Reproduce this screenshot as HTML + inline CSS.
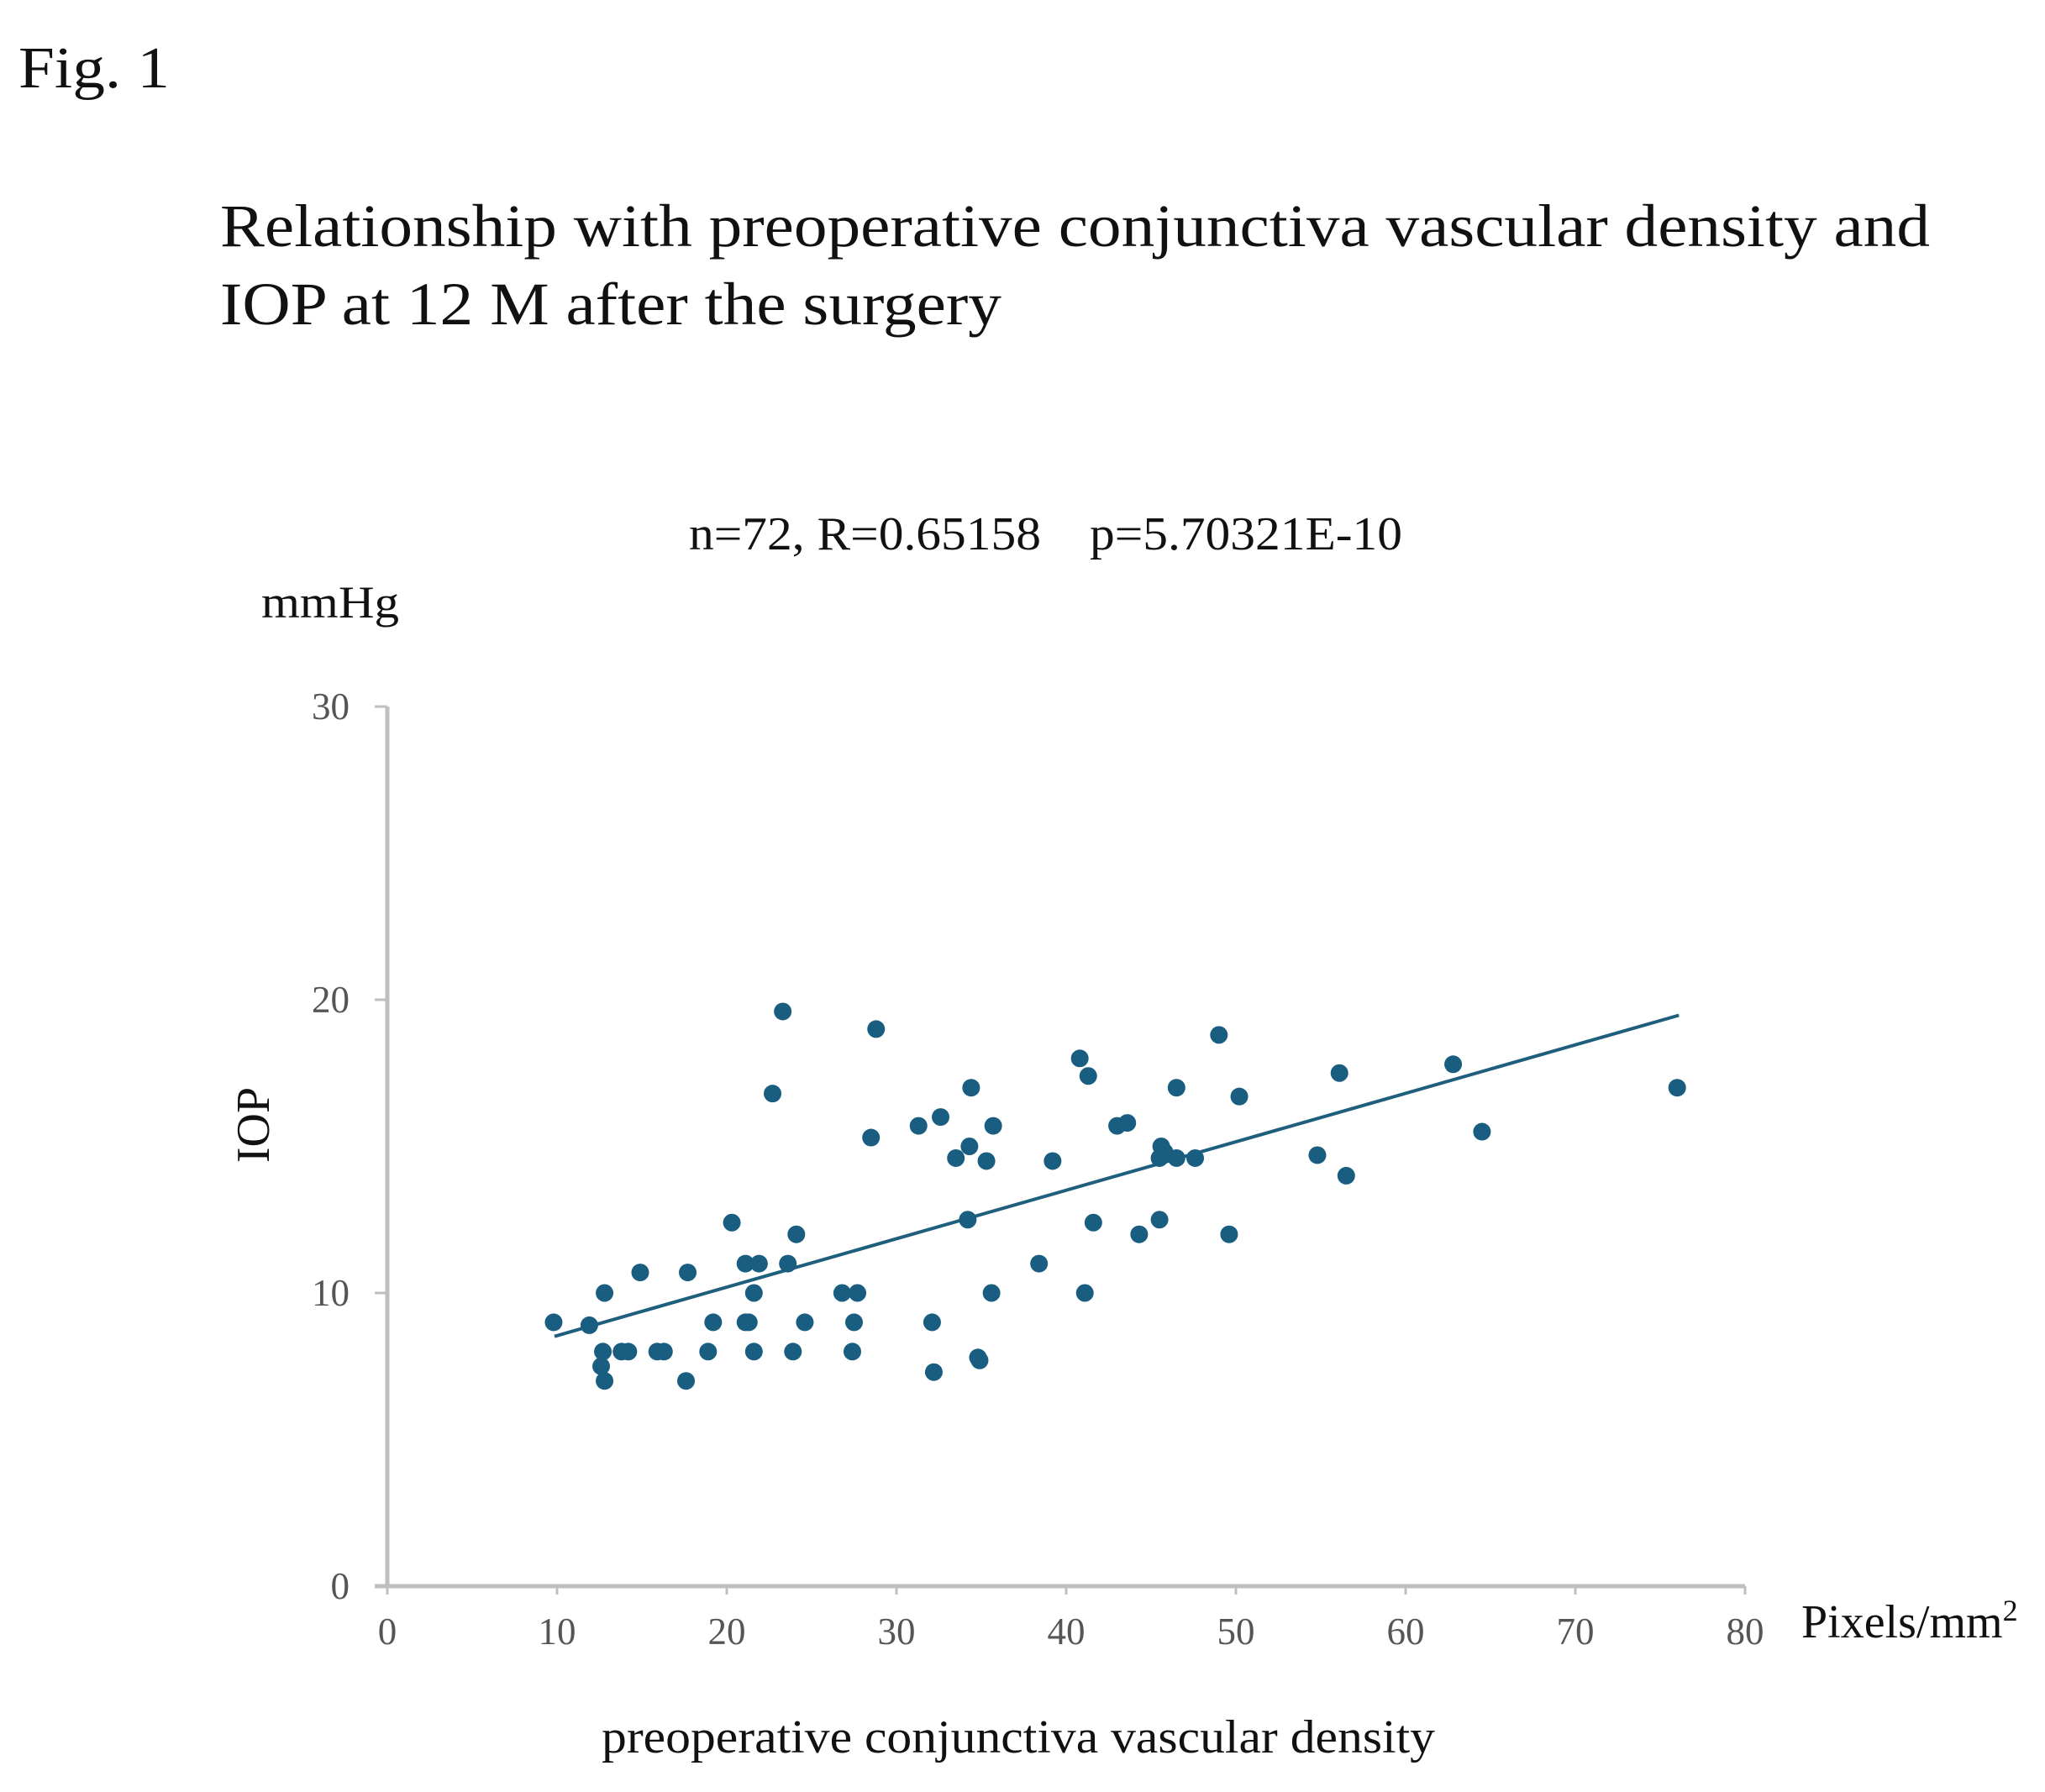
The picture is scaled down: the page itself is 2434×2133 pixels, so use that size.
<!DOCTYPE html>
<html><head><meta charset="utf-8"><style>
html,body{margin:0;padding:0;background:#fff;}
svg{display:block;font-family:"Liberation Serif",serif;}
</style></head><body>
<svg width="2434" height="2133" viewBox="0 0 2434 2133">
<text x="22" y="104" font-size="70" fill="#111" textLength="180" lengthAdjust="spacingAndGlyphs">Fig. 1</text>
<text x="262" y="293" font-size="72" fill="#111" textLength="2035" lengthAdjust="spacingAndGlyphs">Relationship with preoperative conjunctiva vascular density and</text>
<text x="262" y="386" font-size="72" fill="#111" textLength="930" lengthAdjust="spacingAndGlyphs">IOP at 12 M after the surgery</text>
<text x="820" y="654" font-size="56" fill="#111" textLength="419" lengthAdjust="spacingAndGlyphs">n=72, R=0.65158</text>
<text x="1297" y="654" font-size="56" fill="#111" textLength="372" lengthAdjust="spacingAndGlyphs">p=5.70321E-10</text>
<text x="311" y="735" font-size="54" fill="#111" textLength="164" lengthAdjust="spacingAndGlyphs">mmHg</text>
<text transform="translate(320,1339) rotate(-90)" text-anchor="middle" font-size="56" fill="#111">IOP</text>
<text x="2144" y="1949" font-size="56" fill="#111">Pixels/mm<tspan font-size="36" dy="-20">2</tspan></text>
<text x="716" y="2086" font-size="56" fill="#111" textLength="992" lengthAdjust="spacingAndGlyphs">preoperative conjunctiva vascular density</text>
<g id="plot"></g>
</svg>
<script>
const xTicks = [0,10,20,30,40,50,60,70,80];
const yTicks = [0,10,20,30];
const xVals = [9.8,11.9,12.7,12.6,12.8,12.8,13.8,14.2,14.9,15.9,16.3,17.6,17.7,18.9,19.2,20.3,21.1,21.9,21.1,21.3,21.6,21.6,23.6,23.3,22.7,24.1,23.9,24.6,26.8,27.7,27.5,27.4,28.5,28.8,31.3,32.1,32.2,32.6,33.5,34.3,34.4,34.2,34.8,34.9,35.3,35.7,35.6,38.4,39.2,40.8,41.3,41.1,41.6,43.0,43.6,44.3,45.5,45.6,45.5,45.8,46.5,46.5,47.6,49.0,49.6,50.2,54.8,56.1,56.5,62.8,64.5,76.0];
const yVals = [9,8.9,8,7.5,7,10,8,8,10.7,8,8,7,10.7,8,9,12.4,11,11,9,9,10,8,11,19.6,16.8,12,8,9,10,10,9,8,15.3,19,15.7,9,7.3,16,14.6,15,17,12.5,7.8,7.7,14.5,15.7,10,11,14.5,18,17.4,10,12.4,15.7,15.8,12,12.5,15,14.6,14.8,17,14.6,14.6,18.8,12,16.7,14.7,17.5,14,17.8,15.5,17];
const trendX = [9.85,76.1];
const trendY = [8.52,19.47];

const X0=461, X1=2077, Y0=1888, Y1=841;
const sx = v => X0 + (v-0)/(80-0)*(X1-X0);
const sy = v => Y0 - (v-0)/(30-0)*(Y0-Y1);
const NS="http://www.w3.org/2000/svg";
const g=document.getElementById('plot');
function mk(tag,attrs){const e=document.createElementNS(NS,tag);for(const k in attrs)e.setAttribute(k,attrs[k]);g.appendChild(e);return e;}
const gray="#bfbfbf";
let ax=mk('line',{x1:X0,y1:Y1,x2:X0,y2:Y0,stroke:gray,'stroke-width':5});


let axx=mk('line',{x1:X0-15,y1:Y0,x2:X1,y2:Y0,stroke:gray,'stroke-width':5});


yTicks.forEach(v=>{
  const t=mk('line',{x1:X0-15,y1:sy(v),x2:X0,y2:sy(v),stroke:gray,'stroke-width':3});
  
  
  const l=mk('text',{x:416,y:sy(v)+15,'text-anchor':'end','font-size':45,fill:'#555'});
  l.textContent=v;
  
  
});
xTicks.forEach(v=>{
  const t=mk('line',{x1:sx(v),y1:Y0,x2:sx(v),y2:Y0+10,stroke:gray,'stroke-width':3});
  
  
  const l=mk('text',{x:sx(v),y:1957,'text-anchor':'middle','font-size':45,fill:'#555'});
  l.textContent=v;
  
  
});
const tl=mk('line',{x1:sx(trendX[0]),y1:sy(trendY[0]),x2:sx(trendX[1]),y2:sy(trendY[1]),stroke:'#1f5f7e','stroke-width':4});


xVals.forEach((x,i)=>{
  const c=mk('circle',{cx:sx(x),cy:sy(yVals[i]),r:10.5,fill:'#195d80'});
  
  
});
</script>
</body></html>
